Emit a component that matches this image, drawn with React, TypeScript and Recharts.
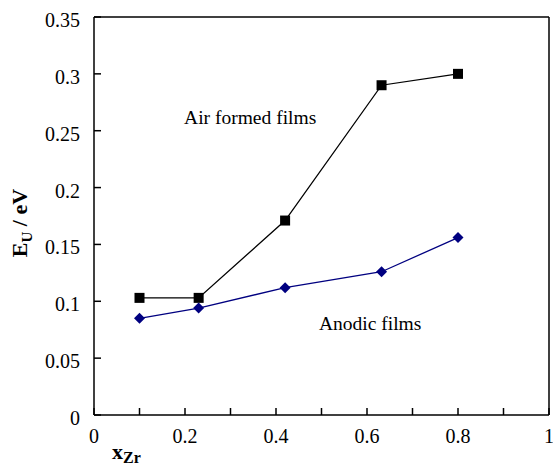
import React from 'react';
import { LineChart, Line, XAxis, YAxis, ReferenceDot, ReferenceLine } from 'recharts';

const xZr = [0.1, 0.23, 0.42, 0.632, 0.8];
const airFormed = [0.103, 0.103, 0.171, 0.29, 0.3];
const anodic = [0.085, 0.094, 0.112, 0.126, 0.156];
const xTicks = [0, 0.1, 0.2, 0.3, 0.4, 0.5, 0.6, 0.7, 0.8, 0.9, 1];
const xTickLabels = ['0', '', '0.2', '', '0.4', '', '0.6', '', '0.8', '', '1'];
const yTicks = [0, 0.05, 0.1, 0.15, 0.2, 0.25, 0.3, 0.35];
const yTickLabels = ['0', '0.05', '0.1', '0.15', '0.2', '0.25', '0.3', '0.35'];
const annotations = [
  { x: 0.198, y: 0.2555, text: 'Air formed films' },
  { x: 0.4945, y: 0.0748, text: 'Anodic films' },
];

const data = xZr.map((x, i) => ({ x, air: airFormed[i], anodic: anodic[i] }));

const FAM = 'Times New Roman';

const XTick = (props: any) => {
  const { x, y, payload } = props;
  const idx = xTicks.indexOf(payload.value);
  const label = idx >= 0 ? xTickLabels[idx] : '';
  return (
    <g>
      <line x1={x} x2={x} y1={y} y2={y - 7} stroke="#000" strokeWidth={1.5} />
      {label ? (
        <text x={x} y={y + 28} textAnchor="middle" fontFamily={FAM} fontSize={20} fill="#000">
          {label}
        </text>
      ) : null}
    </g>
  );
};

const YTick = (props: any) => {
  const { x, y, payload } = props;
  const idx = yTicks.indexOf(payload.value);
  const label = idx >= 0 ? yTickLabels[idx] : '';
  return (
    <g>
      <line x1={x} x2={x + 7} y1={y} y2={y} stroke="#000" strokeWidth={1.5} />
      <text x={x - 14} y={y + 10} textAnchor="end" fontFamily={FAM} fontSize={20} fill="#000">
        {label}
      </text>
    </g>
  );
};

const SquareDot = (props: any) => {
  const { cx, cy } = props;
  if (cx == null || cy == null) return null;
  return <rect x={cx - 5} y={cy - 5} width={10} height={10} fill="#000" />;
};

const DiamondDot = (props: any) => {
  const { cx, cy } = props;
  if (cx == null || cy == null) return null;
  const r = 5.5;
  return (
    <path
      d={`M${cx},${cy - r} L${cx + r},${cy} L${cx},${cy + r} L${cx - r},${cy} Z`}
      fill="#000080"
    />
  );
};

const YLabel = (props: any) => {
  const vb = props.viewBox || {};
  const cx = vb.x + 27;
  const cy = vb.y + vb.height / 2 + 7;
  return (
    <text
      x={cx}
      y={cy}
      transform={`rotate(-90, ${cx}, ${cy})`}
      textAnchor="middle"
      fontFamily={FAM}
      fontWeight="bold"
      fontSize={22}
      fill="#000"
    >
      E
      <tspan fontSize={15} dy={5}>U</tspan>
      <tspan dy={-5}> / eV</tspan>
    </text>
  );
};

const XLabel = (props: any) => {
  const vb = props.viewBox || {};
  const x = vb.x + 18;
  const y = vb.y + 44;
  return (
    <text x={x} y={y} fontFamily={FAM} fontWeight="bold" fontSize={22} fill="#000">
      x
      <tspan fontSize={16} dy={4}>Zr</tspan>
    </text>
  );
};

export default function App() {
  return (
    <div style={{ position: 'absolute', left: 0, top: 0, width: 553, height: 464, background: '#fff' }}>
      <LineChart
        width={553}
        height={464}
        data={data}
        margin={{ top: 17, right: 4, left: 0, bottom: 0 }}
      >
        <XAxis
          dataKey="x"
          type="number"
          domain={[0, 1]}
          ticks={xTicks}
          interval={0}
          height={49}
          tickSize={0}
          tickMargin={0}
          tickLine={false}
          tick={<XTick />}
          axisLine={{ stroke: '#000', strokeWidth: 1.5 }}
          label={<XLabel />}
        />
        <YAxis
          type="number"
          domain={[0, 0.35]}
          ticks={yTicks}
          interval={0}
          width={94}
          tickSize={0}
          tickMargin={0}
          tickLine={false}
          tick={<YTick />}
          axisLine={{ stroke: '#000', strokeWidth: 1.5 }}
          label={<YLabel />}
        />
        <ReferenceLine y={0.35} stroke="#000" strokeWidth={1.5} />
        <ReferenceLine x={1} stroke="#000" strokeWidth={1.5} />
        <Line
          type="linear"
          dataKey="air"
          stroke="#000"
          strokeWidth={1.3}
          dot={<SquareDot />}
          activeDot={false}
          isAnimationActive={false}
        />
        <Line
          type="linear"
          dataKey="anodic"
          stroke="#000080"
          strokeWidth={1.3}
          dot={<DiamondDot />}
          activeDot={false}
          isAnimationActive={false}
        />
        {annotations.map((a) => (
          <ReferenceDot
            key={a.text}
            x={a.x}
            y={a.y}
            r={0}
            shape={(p: any) => (
              <text x={p.cx} y={p.cy} fontFamily={FAM} fontSize={19.5} fill="#000">
                {a.text}
              </text>
            )}
          />
        ))}
      </LineChart>
    </div>
  );
}
